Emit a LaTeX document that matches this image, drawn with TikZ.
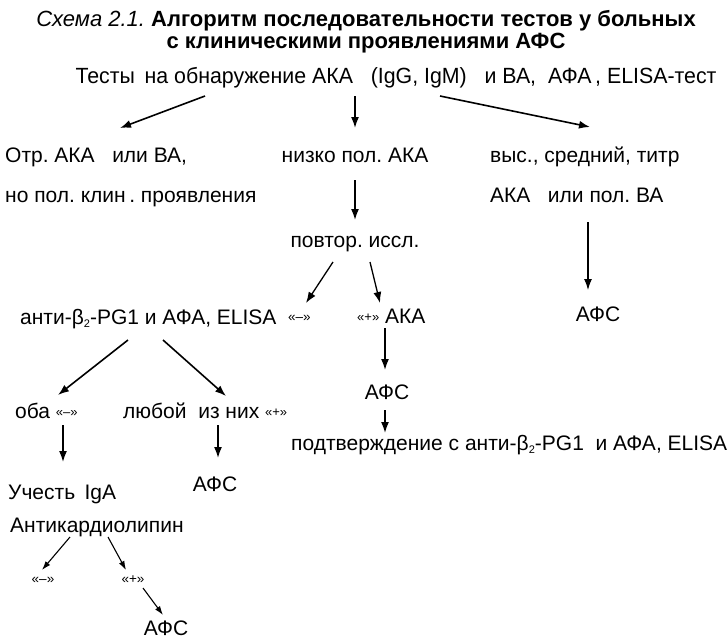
\documentclass[tikz,border=0pt]{standalone}
\usepackage{fontspec}
\setmainfont{Liberation Sans}
\newfontfamily\lineonefont[FakeStretch=0.97]{Liberation Sans}
\usetikzlibrary{arrows.meta,calc}
\frenchspacing
\newcommand{\betatwo}{β\raisebox{-3.5pt}{\fontsize{11}{11}\selectfont 2}}
\newcommand{\smallq}[1]{\raisebox{2pt}{\fontsize{13}{15}\selectfont«#1»}}
\begin{document}
\begin{tikzpicture}[x=1pt,y=-1pt,
  lbl/.style={inner sep=0pt, anchor=base, font=\fontsize{21}{25}\selectfont},
  lblw/.style={lbl, anchor=base west},
  ttl/.style={inner sep=0pt, anchor=base, font=\fontsize{22}{26}\selectfont},
  qt/.style={inner sep=0pt, anchor=base, font=\fontsize{13.5}{15}\selectfont},
  arr/.style={line width=1.6pt, -{Latex[length=11pt,width=8pt]}},
  thinarr/.style={line width=1.1pt, -{Latex[length=9pt,width=6pt]}},
]
\useasboundingbox[fill=white] (0,0) rectangle (728,643);

% heading
\node[ttl] (title1) at (366,26) {\textit{Схема 2.1.} \textbf{Алгоритм последовательности тестов у больных}};
\node[ttl] (title2) at (366,48) {\textbf{с клиническими проявлениями АФС}};

% first level
\node[inner sep=0pt, anchor=base, font=\lineonefont\fontsize{22}{26}\selectfont] (top) at (396,83)
  {Тесты\, на обнаружение АКА\ \ \ (IgG, IgM)\ \ \ и ВА,\ \ АФА\,, ELISA-тест};
\node[lblw] (otr) at (5,162) {Отр. АКА\ \ \ или ВА,};
\node[lblw] (otr2) at (5,202) {но пол. клин\,. проявления};
\node[lbl] (low) at (355,162) {низко пол. АКА};
\node[lblw] (high) at (490,162) {выс., средний, титр};
\node[lblw] (high2) at (490,202) {АКА\ \ \ или пол. ВА};

% repeated test branch
\node[lbl] (rep) at (355,247) {повтор. иссл.};
\node[lblw] (anti) at (20,324) {анти-\betatwo-PG1 и АФА, ELISA};
\node[qt, anchor=base west] (neg1) at (288,321) {«–»};
\node[lblw] (posaka) at (357,323) {\smallq{+}\ АКА};
\node[lbl] (afs1) at (598,321) {АФС};
\node[lbl] (afs2) at (387,399) {АФС};
\node[lblw] (conf) at (291,450) {подтверждение с анти-\betatwo-PG1\ \ и АФА, ELISA};

% both / either
\node[lblw] (both) at (15,418) {оба \smallq{–}};
\node[lblw] (any) at (123,418) {любой\ \ из них \smallq{+}};
\node[lblw] (iga) at (8,499) {Учесть\, IgA};
\node[lbl] (afs3) at (215,491) {АФС};
\node[lblw] (acl) at (10,532) {Антикардиолипин};
\node[qt] (neg2) at (43,583) {«–»};
\node[qt] (pos2) at (133,583) {«+»};
\node[lbl] (afs4) at (166,635) {АФС};

% connectors
\draw[arr] ($(top.base)+(-191,13)$) -- ($(otr.base west)+(115,-34)$);
\draw[arr] ($(top.base)+(-41,13)$) -- ($(low.base)+(0,-34)$);
\draw[arr] ($(top.base)+(44,13)$) -- ($(high.base west)+(100,-35)$);
\draw[arr] ($(low.base)+(0,18)$) -- ($(rep.base)+(0,-27)$);
\draw[line width=1.1pt, -{Latex[length=11pt,width=8pt]}] ($(high2.base west)+(98,20)$) -- ($(afs1.base)+(-10,-31)$);
\draw[arr, line width=1.3pt] ($(rep.base)+(-22,15)$) -- ($(neg1.base west)+(18,-18)$);
\draw[arr, line width=1.3pt] ($(rep.base)+(15,15)$) -- ($(posaka.base west)+(23,-20)$);
\draw[arr] ($(posaka.base west)+(28,5)$) -- ($(afs2.base)+(-2,-29)$);
\draw[arr] ($(afs2.base)+(-2,11)$) -- ($(conf.base west)+(94,-17)$);
\draw[arr] ($(anti.base west)+(108,16)$) -- ($(both.base west)+(43,-23)$);
\draw[arr] ($(anti.base west)+(143,16)$) -- ($(any.base west)+(103,-22)$);
\draw[arr] ($(both.base west)+(48,7)$) -- ($(iga.base west)+(55,-37)$);
\draw[arr] ($(any.base west)+(95,7)$) -- ($(afs3.base)+(3,-33)$);
\draw[thinarr] ($(acl.base west)+(60,5)$) -- ($(neg2.base)+(-1,-13)$);
\draw[thinarr] ($(acl.base west)+(98,5)$) -- ($(pos2.base)+(-7,-13)$);
\draw[thinarr] ($(pos2.base)+(10,5)$) -- ($(afs4.base)+(-3,-20)$);
\end{tikzpicture}
\end{document}
